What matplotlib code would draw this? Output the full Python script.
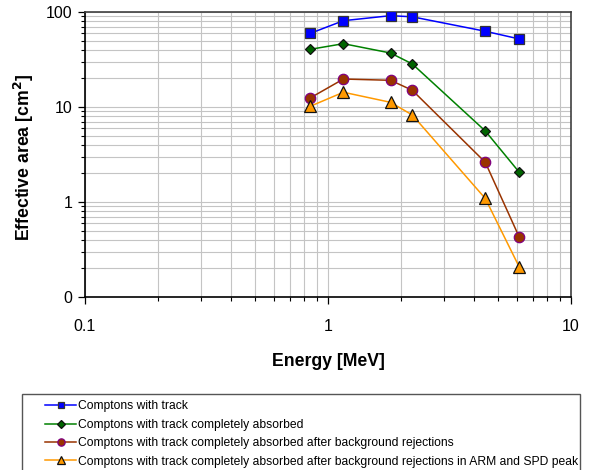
import matplotlib
matplotlib.use("Agg")
import matplotlib.pyplot as plt
import matplotlib.ticker as mticker
from matplotlib.patches import Rectangle

plt.rcParams['font.family'] = ['Liberation Sans', 'DejaVu Sans']

# gamma line energies [MeV]
energy = [0.847, 1.157, 1.809, 2.223, 4.438, 6.129]

# effective areas [cm^2]
with_track = [59.7, 81.0, 91.5, 89.0, 62.7, 52.0]
absorbed = [40.5, 46.4, 37.0, 28.4, 5.6, 2.05]
after_bg = [12.5, 19.7, 19.1, 15.0, 2.62, 0.425]
arm_spd = [10.2, 14.3, 11.2, 8.24, 1.09, 0.206]

labels = [
    "Comptons with track",
    "Comptons with track completely absorbed",
    "Comptons with track completely absorbed after background rejections",
    "Comptons with track completely absorbed after background rejections in ARM and SPD peak",
]

fig = plt.figure(figsize=(5.9, 4.7), dpi=100)
ax = fig.add_axes([85 / 590, 1 - 297 / 470, 486 / 590, 285 / 470])

ax.plot(energy, with_track, color='#0000ff', lw=1.1, marker='s', ms=7,
        mfc='#0000ff', mec='#333333', mew=0.9, label=labels[0], zorder=5)
ax.plot(energy, absorbed, color='#008000', lw=1.1, marker='D', ms=5.5,
        mfc='#006400', mec='#111111', mew=0.9, label=labels[1], zorder=5)
ax.plot(energy, after_bg, color='#993300', lw=1.1, marker='o', ms=7.5,
        mfc='#993300', mec='#800080', mew=0.9, label=labels[2], zorder=5)
ax.plot(energy, arm_spd, color='#ff9900', lw=1.1, marker='^', ms=8,
        mfc='#ff9900', mec='#111111', mew=0.9, label=labels[3], zorder=5)

ax.set_xscale('log')
ax.set_yscale('log')
ax.set_xlim(0.1, 10)
ax.set_ylim(0.1, 100)

ax.xaxis.set_major_locator(mticker.FixedLocator([0.1, 1, 10]))
ax.xaxis.set_major_formatter(mticker.FixedFormatter(['0.1', '1', '10']))
ax.yaxis.set_major_locator(mticker.FixedLocator([0.1, 1, 10, 100]))
ax.yaxis.set_major_formatter(mticker.FixedFormatter(['0', '1', '10', '100']))
ax.xaxis.set_minor_locator(mticker.LogLocator(base=10, subs=range(2, 10)))
ax.yaxis.set_minor_locator(mticker.LogLocator(base=10, subs=range(2, 10)))
ax.xaxis.set_minor_formatter(mticker.NullFormatter())
ax.yaxis.set_minor_formatter(mticker.NullFormatter())

ax.grid(True, which='both', color='#c4c4c4', lw=0.8)
ax.set_axisbelow(True)
ax.tick_params(which='major', direction='out', length=5, width=0.9, labelsize=11.5, pad=4)
ax.tick_params(which='minor', direction='out', length=3, width=0.8)
ax.tick_params(axis='x', pad=11)
for side in ['left', 'bottom']:
    ax.spines[side].set_color('black')
    ax.spines[side].set_linewidth(1.2)
for side in ['top', 'right']:
    ax.spines[side].set_color('#404040')
    ax.spines[side].set_linewidth(1.2)

ax.set_xlabel('Energy [MeV]', fontsize=12.7, fontweight='bold')
ax.set_ylabel('Effective area [cm$^\\mathbf{2}$]', fontsize=12.7, fontweight='bold')
ax.xaxis.set_label_coords(0.5, -0.195)
ax.yaxis.set_label_coords(-0.1, 0.49)

# legend box running off the bottom edge
fig.patches.append(Rectangle((22 / 590, -0.05), 558 / 590, 0.05 + 1 - 394 / 470,
                             transform=fig.transFigure, fill=False,
                             edgecolor='#555555', lw=1.0))
handles, _ = ax.get_legend_handles_labels()
fig.legend(handles, labels, loc='upper left',
           bbox_to_anchor=(37 / 590, 1 - 392 / 470), frameon=False,
           fontsize=8.7, handlelength=2.55, handletextpad=0.15,
           labelspacing=0.53, markerscale=0.7, borderpad=0.2)

fig.savefig('out.png', dpi=100)
